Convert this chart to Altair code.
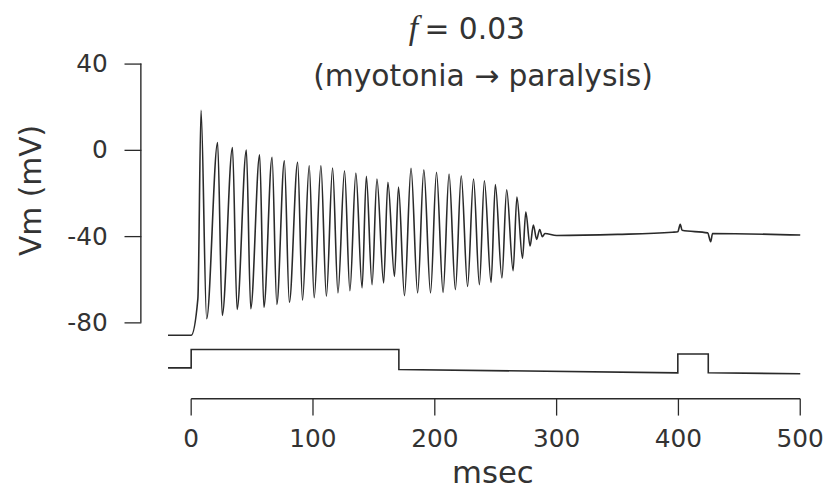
import altair as alt
import pandas as pd

# ---- membrane potential trace (msec, mV) ----
pre_t = [-19.0, 0.0, 5.5]
pre_v = [-86.0, -86.0, -69.0]

peak_t = [8.1, 21.7, 33.9, 45.3, 56.2, 66.4, 76.5, 87.4, 96.9, 106.5, 116.1, 125.9,
          135.2, 143.8, 152.5, 161.5, 170.2, 180.5, 191.0, 201.4, 211.7, 221.7,
          231.8, 240.7, 249.7, 259.0, 267.4, 274.7, 280.9, 286.1, 290.4]
peak_v = [18.3, 3.4, 1.1, -0.1, -2.3, -3.5, -5.1, -5.8, -7.4, -7.4, -8.4, -9.7,
          -10.8, -12.3, -13.5, -15.0, -17.3, -8.6, -9.3, -10.4, -11.2, -12.0,
          -13.5, -14.3, -16.1, -18.5, -21.9, -28.8, -34.9, -36.9, -38.8]

trough_t = [12.7, 25.5, 37.7, 48.9, 59.7, 70.3, 80.6, 91.4, 101.0, 111.0, 120.5,
            130.3, 140.3, 148.5, 158.0, 166.9, 175.1, 185.9, 196.5, 206.8, 216.9,
            226.9, 236.6, 246.2, 255.1, 264.3, 272.0, 278.2, 283.6, 288.3]
trough_v = [-78.3, -76.8, -74.0, -73.7, -73.0, -71.7, -70.7, -69.7, -68.6, -67.9,
            -66.3, -65.3, -64.0, -62.5, -61.7, -58.7, -67.6, -66.3, -66.3, -66.1,
            -64.8, -63.3, -62.5, -61.5, -59.4, -56.0, -50.3, -44.6, -41.5, -40.3]

tail_t = [300.0, 350.0, 395.0, 399.5, 401.5, 403.0, 424.0, 426.5, 428.0, 500.0]
tail_v = [-39.7, -39.2, -38.2, -38.0, -34.5, -37.3, -38.5, -42.6, -38.8, -39.5]

# ---- stimulus current trace (relative units) ----
stim_t = [-19.0, 0.0, 0.0, 170.5, 170.5, 399.5, 399.5, 424.5, 424.5, 500.0]
stim_v = [0.0, 0.0, 1.0, 1.0, -0.09, -0.27, 0.76, 0.76, -0.27, -0.32]

x_ticks = [0, 100, 200, 300, 400, 500]
y_ticks = [40, 0, -40, -80]

# build tables
pts = list(zip(pre_t, pre_v)) + list(zip(peak_t, peak_v)) + \
      list(zip(trough_t, trough_v)) + list(zip(tail_t, tail_v))
pts.sort(key=lambda p: p[0])
vm = pd.DataFrame({"t": [p[0] for p in pts], "v": [p[1] for p in pts]})
vm["i"] = range(len(vm))

stim = pd.DataFrame({"t": stim_t, "s": stim_v, "i": list(range(len(stim_t)))})
xt = pd.DataFrame({"tk": x_ticks})

FONT = "DejaVu Sans"
INK = "#2a2a2a"
TXT = "#333333"

xs = alt.Scale(domain=[-41.3, 500], nice=False, zero=False)
ys = alt.Scale(domain=[-115.4, 40], nice=False, zero=False)

y_axis = alt.Axis(
    values=y_ticks, domain=False, grid=False, tickSize=17, tickWidth=1.3,
    tickColor=INK, labelFont=FONT, labelFontSize=25, labelColor=TXT,
    labelPadding=17, labelExpr="'' + datum.value", orient="left",
    title="Vm (mV)", titleFont=FONT, titleFontSize=30, titleFontWeight="normal",
    titleColor=TXT, titleX=-110, titleY=127.5, titleAlign="center",
    titleBaseline="middle", titleAngle=270)

trace = alt.Chart(vm).mark_line(color=INK, strokeWidth=1.6, interpolate="monotone").encode(
    x=alt.X("t:Q", scale=xs, axis=None),
    y=alt.Y("v:Q", scale=ys, axis=y_axis),
    order="i:Q",
)

# stimulus drawn below the voltage trace: placed on the shared vertical scale
stim_line = alt.Chart(stim).transform_calculate(
    v="-101.1 + 8.5 * datum.s"
).mark_line(color=INK, strokeWidth=1.6).encode(
    x=alt.X("t:Q", scale=xs, axis=None),
    y=alt.Y("v:Q", scale=ys, axis=y_axis),
    order="i:Q",
)

# axis lines limited to the labelled ranges
yaxis_line = alt.Chart(pd.DataFrame({"lo": [y_ticks[-1]], "hi": [y_ticks[0]]})).mark_rule(
    color=INK, strokeWidth=1.4).encode(
    x=alt.value(0),
    y=alt.Y("lo:Q", scale=ys, axis=y_axis),
    y2="hi:Q",
)

xaxis_line = alt.Chart(pd.DataFrame({"lo": [x_ticks[0]], "hi": [x_ticks[-1]]})).mark_rule(
    color=INK, strokeWidth=1.4).encode(
    x=alt.X("lo:Q", scale=xs, axis=None),
    x2="hi:Q",
    y=alt.value(338),
)

xaxis_ticks = alt.Chart(xt).mark_rule(color=INK, strokeWidth=1.3).encode(
    x=alt.X("tk:Q", scale=xs, axis=None),
    y=alt.value(338),
    y2=alt.value(355),
)

xaxis_labels = alt.Chart(xt).mark_text(
    font=FONT, fontSize=25, color=TXT, align="center", baseline="middle").encode(
    x=alt.X("tk:Q", scale=xs, axis=None),
    y=alt.value(379),
    text=alt.Text("tk:Q", format="d"),
)

xaxis_title = alt.Chart(pd.DataFrame({"s": ["msec"]})).mark_text(
    font=FONT, fontSize=31, color=TXT, align="center", baseline="alphabetic").encode(
    text="s:N", x=alt.value(355), y=alt.value(423))

f_txt = alt.Chart(pd.DataFrame({"s": ["f"]})).mark_text(
    font="Liberation Serif", fontStyle="italic", fontSize=34, color=TXT,
    align="center", baseline="alphabetic").encode(
    text="s:N", x=alt.value(275), y=alt.value(-25))

eq_txt = alt.Chart(pd.DataFrame({"s": ["= 0.03"]})).mark_text(
    font=FONT, fontSize=30, color=TXT, align="left", baseline="alphabetic").encode(
    text="s:N", x=alt.value(286), y=alt.value(-25))

sub_txt = alt.Chart(pd.DataFrame({"s": ["(myotonia \u2192 paralysis)"]})).mark_text(
    font=FONT, fontSize=30, color=TXT, align="center", baseline="alphabetic").encode(
    text="s:N", x=alt.value(345), y=alt.value(23))

chart = alt.layer(
    trace, stim_line, xaxis_line, xaxis_ticks, xaxis_labels, xaxis_title,
    yaxis_line, f_txt, eq_txt, sub_txt
).properties(
    width=665, height=338,
    padding={"left": 134, "top": 54, "right": 28, "bottom": 90},
    autosize=alt.AutoSizeParams(type="none"),
    background="white",
).configure_view(stroke=None)

chart.save("out.html", embed_options={"renderer": "svg", "actions": False})
